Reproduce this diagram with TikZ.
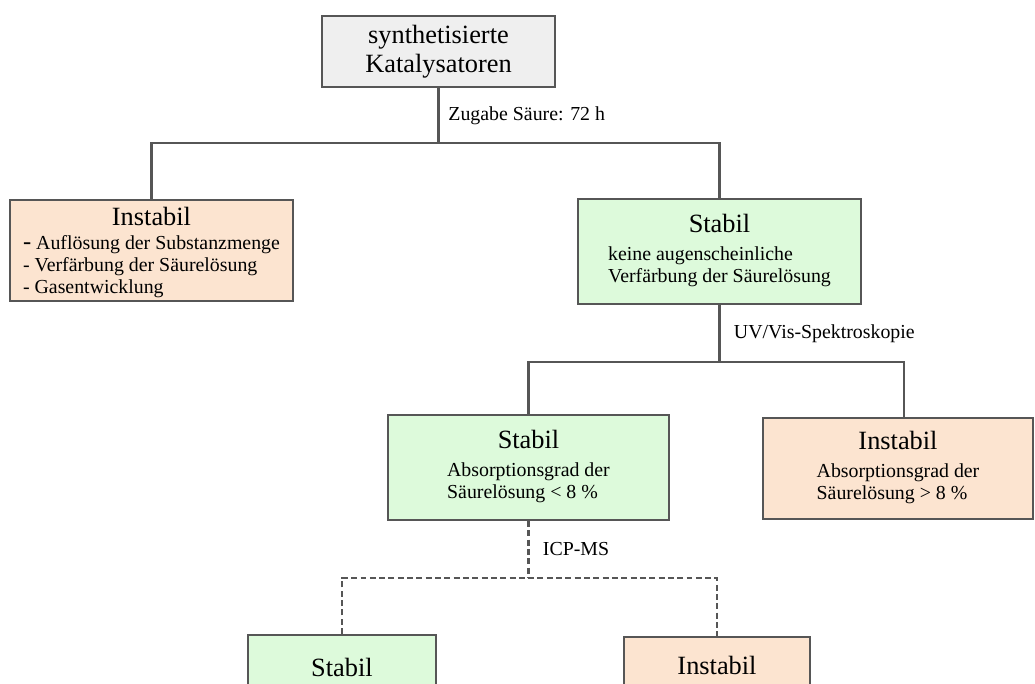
\documentclass[tikz,border=0pt]{standalone}
\usepackage{fontspec}
\setmainfont{Liberation Serif}
\usepackage{xcolor}
\usepackage{tikz}
\definecolor{rahmen}{HTML}{565656}
\definecolor{grauf}{HTML}{EFEFEF}
\definecolor{pfirsich}{HTML}{FCE4D0}
\definecolor{mintf}{HTML}{DDFADB}
\newcommand{\Kopf}[1]{{\fontsize{15}{16}\selectfont #1}}
\newcommand{\Befund}[3][3.4pt]{%
  \Kopf{#2}\\[#1]%
  \begin{tabular}[t]{@{}l@{}}
    #3
  \end{tabular}%
}

\begin{document}
\begin{tikzpicture}[
        x=0.2mm,
        y=-0.2mm,
        ast/.style={draw=rahmen, line width=1.6pt},
        astmess/.style={ast, dash pattern=on 3.4pt off 1.9pt},
        wurzel/.style={draw=rahmen, line width=1.1pt, fill=grauf, align=center, inner sep=0pt, font=\fontsize{15}{16.5}\selectfont},
        instabil/.style={draw=rahmen, line width=1.1pt, fill=pfirsich, align=center, inner sep=0pt},
        stabil/.style={draw=rahmen, line width=1.1pt, fill=mintf, align=center, inner sep=0pt},
        astlabel/.style={midway, right, inner sep=0pt, xshift=2.6mm},
        every node/.style={font=\fontsize{11.3}{12.5}\selectfont}
      ]
        \useasboundingbox (0,0) rectangle (1035,684);
        \clip (0,0) rectangle (1035,684);

        \node[wurzel, minimum width=46.6mm, minimum height=14.2mm] (kat) at (438.5,51.5) {synthetisierte\\Katalysatoren};

        \node[instabil, minimum width=56.6mm, minimum height=20.2mm] (inst1) at (151.5,250.5) {\Befund[1.1pt]{\rule{0pt}{14.3pt}Instabil}{{\fontsize{14}{12.5}\selectfont -} Auflösung der Substanzmenge\\- Verfärbung der Säurelösung\\- Gasentwicklung}};
        \node[stabil, minimum width=56.6mm, minimum height=21mm] (st1) at (719.5,251.5) {\Befund{Stabil}{keine augenscheinliche\\Verfärbung der Säurelösung}};

        \node[stabil, minimum width=56.2mm, minimum height=21mm] (st2) at (528.5,467.5) {\Befund{Stabil}{Absorptionsgrad der\\Säurelösung < 8 \%}};
        \node[instabil, minimum width=54mm, minimum height=20.2mm] (inst2) at (898,468.5) {\Befund{Instabil}{Absorptionsgrad der\\Säurelösung > 8 \%}};

        \node[stabil, minimum width=37.6mm, minimum height=13.2mm, anchor=north] (st3) at (342,634) {\Kopf{Stabil}};
        \node[instabil, minimum width=37.2mm, minimum height=11.6mm, anchor=north] (inst3) at (717,636) {\Kopf{Instabil}};

        \coordinate (j1) at (438.5,143);
        \coordinate (j2) at (719.5,362);
        \coordinate (j2r) at (904,362);
        \coordinate (j3) at (528.5,578);

        \draw[ast] (kat.south) -- node[astlabel, xshift=-0.9mm] {Zugabe Säure: 72 h} (j1);
        \draw[ast] (inst1.north) |- (j1) -| (st1.north);

        \draw[ast] (st1.south) -- node[astlabel] {UV/Vis-Spektroskopie} (j2);
        \draw[ast] (st2.north) |- (j2) -- (j2r) -- (j2r |- inst2.north);

        \draw[astmess] (st2.south) -- node[astlabel] {ICP-MS} (j3);
        \draw[astmess] (st3.north) |- (j3) -| (inst3.north);
      \end{tikzpicture}
\end{document}
